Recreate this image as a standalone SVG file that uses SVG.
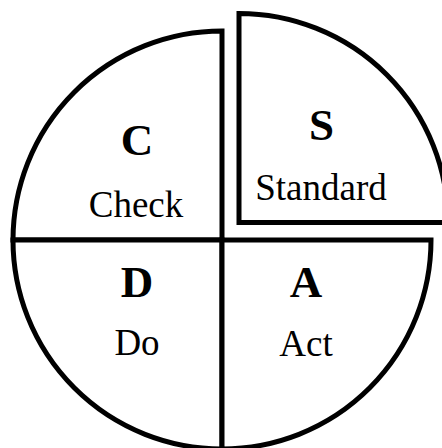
<svg xmlns="http://www.w3.org/2000/svg" width="442" height="448" viewBox="0 0 442 448">
<style>
.q{fill:#fff;stroke:#000;stroke-width:5;stroke-linejoin:miter}
.l{font-family:"Liberation Serif","Times New Roman",serif;font-weight:bold;font-size:45px;text-anchor:middle;fill:#000}
.s{font-family:"Liberation Serif","Times New Roman",serif;font-size:37px;text-anchor:middle;fill:#000}
</style>
<rect width="442" height="448" fill="#fff"/>
<g id="check">
<path class="q" d="M222,240 L13,240 A209,209 0 0 1 222,31 Z"/>
<text class="l" x="137" y="155">C</text>
<text class="s" x="136" y="217">Check</text>
</g>
<g id="do">
<path class="q" d="M222,240 L222,449 A209,209 0 0 1 13,240 Z"/>
<text class="l" x="137" y="297">D</text>
<text class="s" x="137" y="355">Do</text>
</g>
<g id="act">
<path class="q" d="M222,240 L431,240 A209,209 0 0 1 222,449 Z"/>
<text class="l" x="306" y="297">A</text>
<text class="s" x="306" y="356">Act</text>
</g>
<g id="standard" transform="translate(17,-17.5)">
<path class="q" d="M222,240 L222,31 A209,209 0 0 1 431,240 Z"/>
<text class="l" x="304.5" y="157">S</text>
<text class="s" x="304" y="217.5">Standard</text>
</g>
<g id="connectors"/>
</svg>
